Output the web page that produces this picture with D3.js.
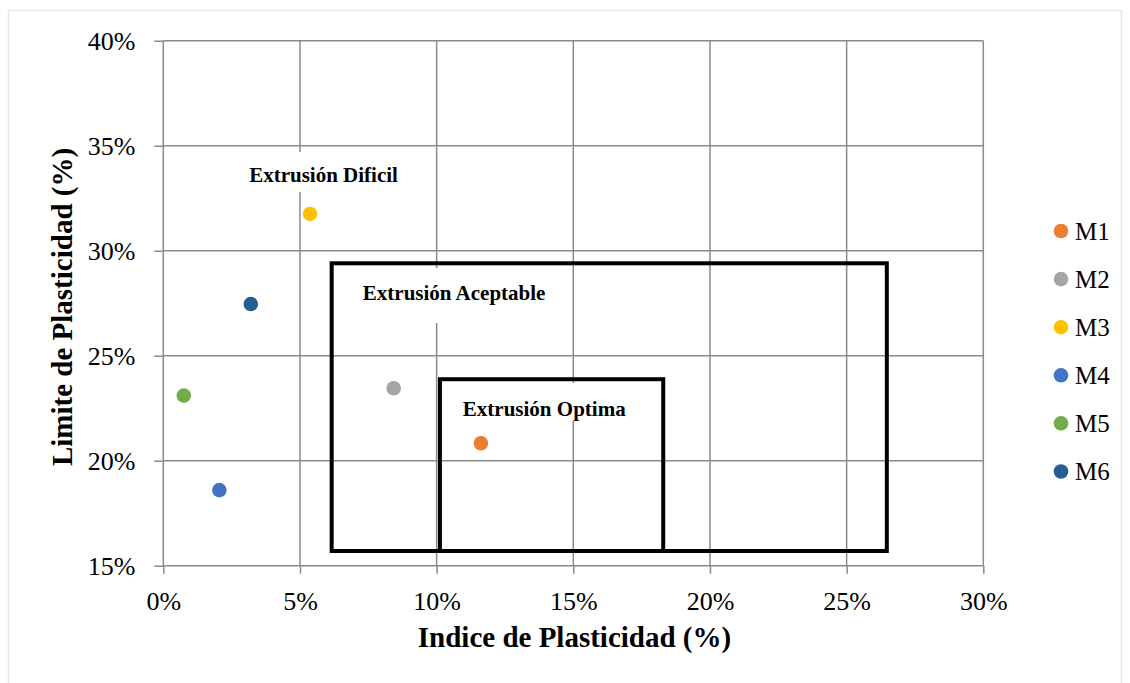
<!DOCTYPE html>
<html>
<head>
<meta charset="utf-8">
<script src="https://cdn.jsdelivr.net/npm/d3@7"></script>
<style>
  html, body { margin: 0; padding: 0; background: #fff; }
  svg { display: block; font-family: "Liberation Serif", "Times New Roman", serif; }
</style>
</head>
<body>
<svg id="chart" width="1130" height="683"></svg>
<script>
// ---- Data ----
const seriesNames = ["M1", "M2", "M3", "M4", "M5", "M6"];
const indicePlasticidad = [0.1162, 0.0843, 0.0537, 0.0205, 0.0075, 0.0320];
const limitePlasticidad = [0.2083, 0.2345, 0.3175, 0.1860, 0.2310, 0.2746];
const seriesColors = ["#ED7D31", "#A5A5A5", "#FFC000", "#4472C4", "#70AD47", "#255E91"];
const xTickValues = [0, 0.05, 0.10, 0.15, 0.20, 0.25, 0.30];
const yTickValues = [0.15, 0.20, 0.25, 0.30, 0.35, 0.40];
// zones (data units)
const zoneNames = ["Extrusión Aceptable", "Extrusión Optima"];
const zoneX0 = [0.0616, 0.1012];
const zoneX1 = [0.2647, 0.1829];
const zoneY0 = [0.157, 0.157];
const zoneY1 = [0.294, 0.2388];
// labels (data units: left x, baseline y)
const labelTexts = ["Extrusión Dificil", "Extrusión Aceptable", "Extrusión Optima"];
const labelX = [0.0314, 0.0730, 0.1096];
const labelY = [0.3327, 0.2765, 0.2213];
const labelPadTop = [30, 32, 33];
const labelPadBottom = [10, 23, 5];

// ---- Layout ----
const svg = d3.select("#chart");
const L = 163.3, R = 983.3, T = 40.7, B = 565.7;
const x = d3.scaleLinear().domain([0, 0.30]).range([L, R]);
const y = d3.scaleLinear().domain([0.15, 0.40]).range([B, T]);
const fmt = d3.format(".0%");

// outer chart border
svg.append("path")
  .attr("d", "M8.5,683 V10.5 H1121.5 V683")
  .attr("fill", "none").attr("stroke", "#e3e7ec").attr("stroke-width", 1.5);

const gridColor = "#8a8a8a";
// grid lines
svg.append("g").selectAll("line").data(xTickValues).join("line")
  .attr("x1", d => x(d)).attr("x2", d => x(d))
  .attr("y1", T).attr("y2", B)
  .attr("stroke", gridColor).attr("stroke-width", 1.5);
svg.append("g").selectAll("line").data(yTickValues).join("line")
  .attr("x1", L).attr("x2", R)
  .attr("y1", d => y(d)).attr("y2", d => y(d))
  .attr("stroke", gridColor).attr("stroke-width", 1.5);

// axes (outer ticks + labels)
const xAxis = svg.append("g").attr("transform", `translate(0,${B})`)
  .call(d3.axisBottom(x).tickValues(xTickValues).tickFormat(fmt).tickSize(8).tickPadding(18));
const yAxis = svg.append("g").attr("transform", `translate(${L},0)`)
  .call(d3.axisLeft(y).tickValues(yTickValues).tickFormat(fmt).tickSize(9).tickPadding(19));
[xAxis, yAxis].forEach(g => {
  g.select(".domain").remove();
  g.selectAll(".tick line").attr("stroke", gridColor).attr("stroke-width", 1.5);
  g.selectAll(".tick text")
    .attr("fill", "#000")
    .style("font-family", "'Liberation Serif', 'Times New Roman', serif")
    .style("font-size", "26px");
});

// label backgrounds (white boxes that hide gridlines)
const labelFont = "bold 21px 'Liberation Serif'";
const ctx = document.createElement("canvas").getContext("2d");
ctx.font = labelFont;
svg.append("g").selectAll("rect").data(labelTexts).join("rect")
  .attr("x", (d, i) => x(labelX[i]) - 6)
  .attr("y", (d, i) => y(labelY[i]) - labelPadTop[i])
  .attr("width", (d, i) => ctx.measureText(d).width + 12)
  .attr("height", (d, i) => labelPadTop[i] + labelPadBottom[i])
  .attr("fill", "#fff");

// zones
svg.append("g").selectAll("rect").data(zoneNames).join("rect")
  .attr("x", (d, i) => x(zoneX0[i]))
  .attr("y", (d, i) => y(zoneY1[i]))
  .attr("width", (d, i) => x(zoneX1[i]) - x(zoneX0[i]))
  .attr("height", (d, i) => y(zoneY0[i]) - y(zoneY1[i]))
  .attr("fill", "none").attr("stroke", "#000").attr("stroke-width", 4);

// labels
svg.append("g").selectAll("text").data(labelTexts).join("text")
  .attr("x", (d, i) => x(labelX[i]))
  .attr("y", (d, i) => y(labelY[i]))
  .attr("font-weight", "bold").attr("font-size", 21).attr("fill", "#000")
  .text(d => d);

// points
svg.append("g").selectAll("circle").data(seriesNames).join("circle")
  .attr("cx", (d, i) => x(indicePlasticidad[i]))
  .attr("cy", (d, i) => y(limitePlasticidad[i]))
  .attr("r", 7.3)
  .attr("fill", (d, i) => seriesColors[i]);

// axis titles
svg.append("text")
  .attr("x", 574.5).attr("y", 647)
  .attr("text-anchor", "middle")
  .attr("font-weight", "bold").attr("font-size", 29)
  .text("Indice de Plasticidad (%)");
svg.append("text")
  .attr("transform", "translate(72,307) rotate(-90)")
  .attr("text-anchor", "middle")
  .attr("font-weight", "bold").attr("font-size", 29)
  .text("Limite de Plasticidad (%)");

// legend
const leg = svg.append("g").selectAll("g").data(seriesNames).join("g")
  .attr("transform", (d, i) => `translate(1061,${231 + i * 48.1})`);
leg.append("circle").attr("r", 7.3).attr("fill", (d, i) => seriesColors[i]);
leg.append("text").attr("x", 14).attr("dy", "0.34em")
  .attr("font-size", 25).attr("fill", "#000").text(d => d);
</script>
</body>
</html>
